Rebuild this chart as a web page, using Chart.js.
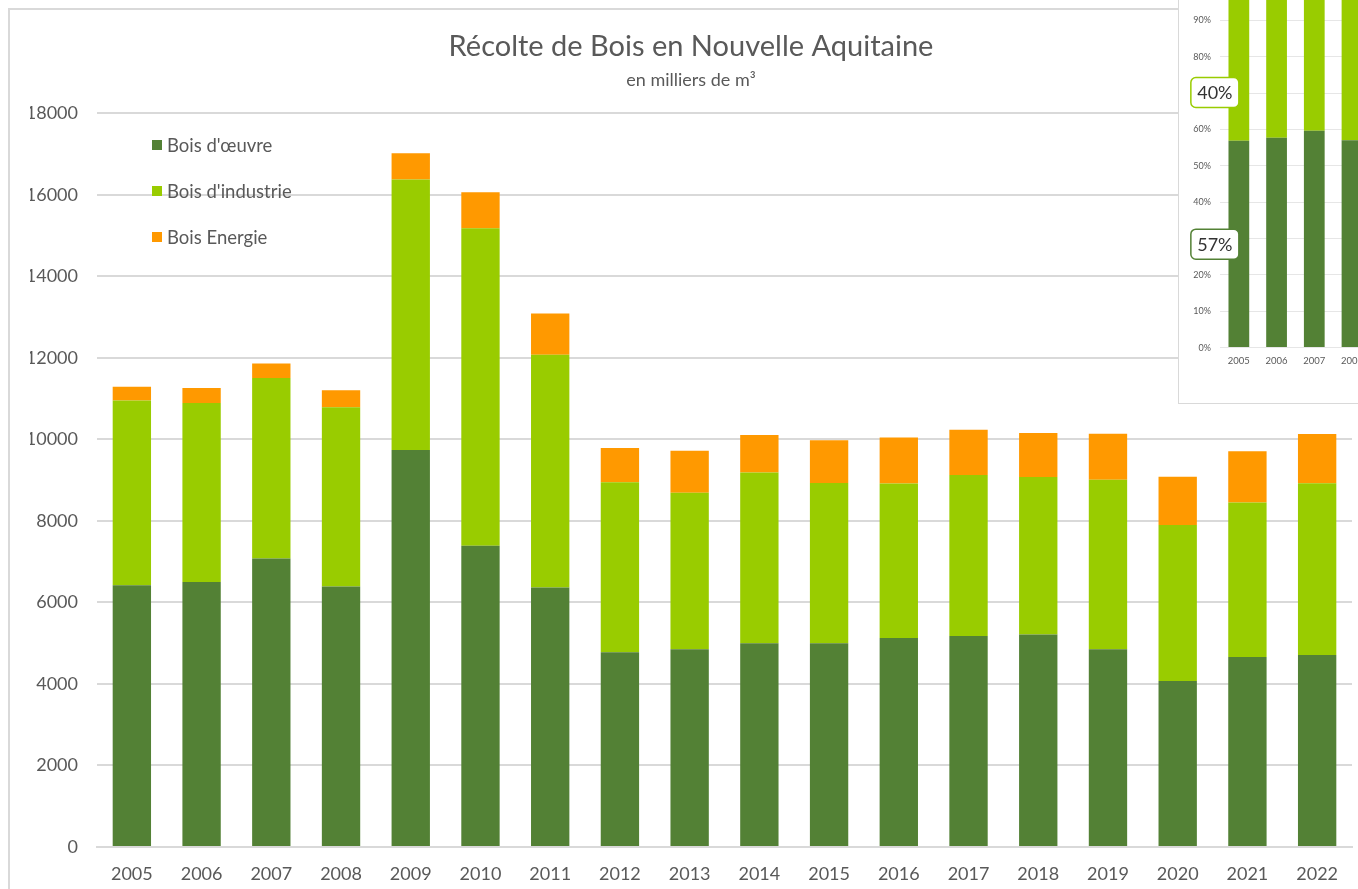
<!DOCTYPE html>
<html>
<head>
<meta charset="utf-8">
<script src="https://cdn.jsdelivr.net/npm/chart.js@4/dist/chart.umd.min.js"></script>
<style>
  html, body { margin: 0; padding: 0; background: #fff; overflow: hidden; }
  body { width: 1358px; height: 889px; position: relative; }
  #frame { position: absolute; left: 8px; top: 8px; width: 1400px; height: 950px;
           border-left: 2px solid #d9d9d9; border-top: 2px solid #d9d9d9; }
  #main { position: absolute; left: 0; top: 0; width: 1358px; height: 889px; }
  #inset { position: absolute; left: 1178px; top: -60px; width: 720px; height: 462px;
           background: #fff; border: 1px solid #d9d9d9; z-index: 2; }
  #insetCanvas { position: absolute; left: 0; top: 0; }
</style>
</head>
<body>
<div id="frame"></div>
<div id="main"><canvas id="harvestChart" width="1358" height="889"></canvas></div>
<div id="inset"><canvas id="insetCanvas" width="720" height="462"></canvas></div>
<script>
// Récolte de bois en Nouvelle Aquitaine, en milliers de m3
const years = ['2005', '2006', '2007', '2008', '2009', '2010', '2011', '2012', '2013',
               '2014', '2015', '2016', '2017', '2018', '2019', '2020', '2021', '2022'];
const seriesNames = ["Bois d'œuvre", "Bois d'industrie", 'Bois Energie'];
const boisOeuvre = [6425, 6500, 7080, 6390, 9740, 7390, 6370, 4780, 4850,
                    5000, 5000, 5130, 5180, 5215, 4850, 4070, 4660, 4710];
const boisIndustrie = [4530, 4395, 4430, 4400, 6640, 7795, 5710, 4170, 3840,
                       4190, 3930, 3790, 3950, 3865, 4160, 3830, 3790, 4215];
const boisEnergie = [335, 368, 355, 415, 640, 880, 1010, 840, 1030,
                     920, 1050, 1130, 1110, 1080, 1130, 1185, 1260, 1210];
const yTicks = [0, 2000, 4000, 6000, 8000, 10000, 12000, 14000, 16000, 18000];

const colors = ['#538135', '#99cc00', '#ff9900'];
const textColor = '#595959';
const gridColor = '#d9d9d9';
const fontName = 'Lato, "Open Sans", sans-serif';

// legend drawn inside the plot, top left, one item per row
const sideLegend = {
    id: 'sideLegend',
    afterDraw(chart) {
        const ctx = chart.ctx;
        ctx.save();
        ctx.font = '18.5px ' + fontName;
        ctx.textBaseline = 'middle';
        chart.data.datasets.forEach((ds, i) => {
            const y = 145 + i * 46;
            ctx.fillStyle = ds.backgroundColor;
            ctx.fillRect(152, y - 5, 10, 10);
            ctx.fillStyle = textColor;
            ctx.fillText(ds.label, 167, y + 1);
        });
        ctx.restore();
    }
};

new Chart(document.getElementById('harvestChart'), {
    type: 'bar',
    data: {
        labels: years,
        datasets: [
            { label: seriesNames[0], data: boisOeuvre, backgroundColor: colors[0] },
            { label: seriesNames[1], data: boisIndustrie, backgroundColor: colors[1] },
            { label: seriesNames[2], data: boisEnergie, backgroundColor: colors[2] }
        ]
    },
    options: {
        responsive: false,
        animation: false,
        layout: { padding: { left: 30, right: 6, top: 0, bottom: 6 } },
        datasets: { bar: { barPercentage: 0.55, categoryPercentage: 1 } },
        plugins: {
            legend: { display: false },
            tooltip: { enabled: false },
            title: {
                display: true,
                text: 'Récolte de Bois en Nouvelle Aquitaine',
                color: textColor,
                font: { family: fontName, size: 29, weight: 'normal' },
                padding: { top: 29, bottom: 0 }
            },
            subtitle: {
                display: true,
                text: 'en milliers de m³',
                color: textColor,
                font: { family: fontName, size: 18, weight: 'normal' },
                padding: { top: 6, bottom: 22 }
            }
        },
        scales: {
            x: {
                stacked: true,
                afterFit: s => { s.height = 36; },
                grid: { display: false, drawTicks: false },
                border: { color: gridColor, width: 2 },
                ticks: { color: textColor, padding: 16, font: { family: fontName, size: 18 } }
            },
            y: {
                stacked: true,
                min: 0,
                max: 18000,
                afterBuildTicks: s => { s.ticks = yTicks.map(v => ({ value: v })); },
                afterFit: s => { s.width = 67; },
                grid: { color: gridColor, lineWidth: 2, drawTicks: false },
                border: { display: false },
                ticks: { color: textColor, padding: 19, font: { family: fontName, size: 18 },
                         callback: v => String(v) }
            }
        }
    },
    plugins: [sideLegend]
});

// inset: same harvest as shares of the yearly total (100 % stacked)
const totals = years.map((y, i) => boisOeuvre[i] + boisIndustrie[i] + boisEnergie[i]);
const share = arr => arr.map((v, i) => v / totals[i] * 100);
const calloutSpots = [0.5, 0.33];   // where along the segment the 2005 callouts sit

const callouts = {
    id: 'callouts',
    afterDatasetsDraw(chart) {
        const ctx = chart.ctx;
        const yScale = chart.scales.y;
        ctx.save();
        ctx.font = '18px ' + fontName;
        ctx.textAlign = 'center';
        ctx.textBaseline = 'middle';
        [0, 1].forEach(d => {
            const bar = chart.getDatasetMeta(d).data[0];
            let base = 0;
            for (let k = 0; k < d; k++) base += chart.data.datasets[k].data[0];
            const v = chart.data.datasets[d].data[0];
            const cy = yScale.getPixelForValue(base + v * calloutSpots[d]);
            const cx = bar.x - 24;
            ctx.beginPath();
            ctx.roundRect(cx - 24, cy - 15, 48, 30, 5);
            ctx.fillStyle = '#fff';
            ctx.fill();
            ctx.lineWidth = 1.5;
            ctx.strokeStyle = colors[d];
            ctx.stroke();
            ctx.fillStyle = '#333';
            ctx.fillText(Math.round(v) + '%', cx, cy + 1);
        });
        ctx.restore();
    }
};

new Chart(document.getElementById('insetCanvas'), {
    type: 'bar',
    data: {
        labels: years,
        datasets: [
            { label: seriesNames[0], data: share(boisOeuvre), backgroundColor: colors[0] },
            { label: seriesNames[1], data: share(boisIndustrie), backgroundColor: colors[1] },
            { label: seriesNames[2], data: share(boisEnergie), backgroundColor: colors[2] }
        ]
    },
    options: {
        responsive: false,
        animation: false,
        layout: { padding: { left: 0, right: 0, top: 43, bottom: 28 } },
        datasets: { bar: { barPercentage: 0.55, categoryPercentage: 1 } },
        plugins: { legend: { display: false }, tooltip: { enabled: false } },
        scales: {
            x: {
                stacked: true,
                grid: { display: false, drawTicks: false },
                border: { color: '#e6e6e6' },
                ticks: { color: textColor, padding: 8, maxRotation: 0, autoSkip: false,
                         font: { family: fontName, size: 9.5 } }
            },
            y: {
                stacked: true,
                min: 0,
                max: 100,
                afterFit: s => { s.width = 41; },
                grid: { color: '#e6e6e6', drawTicks: false },
                border: { display: false },
                ticks: { stepSize: 10, color: textColor, padding: 9,
                         font: { family: fontName, size: 9 }, callback: v => v + '%' }
            }
        }
    },
    plugins: [callouts]
});
</script>
</body>
</html>
